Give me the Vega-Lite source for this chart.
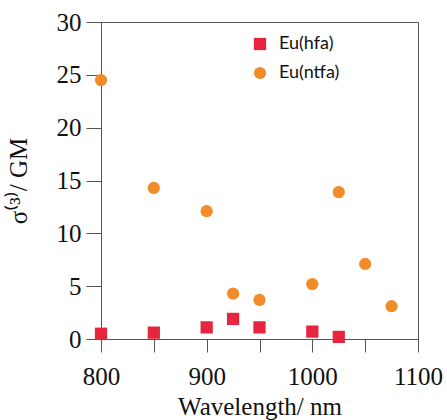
{
  "$schema": "https://vega.github.io/schema/vega-lite/v6.json",
  "autosize": {"type": "none"},
  "width": 317,
  "height": 317,
  "padding": {"left": 101, "top": 22, "right": 29, "bottom": 81},
  "background": "white",
  "config": {
    "view": {"stroke": "#555", "strokeWidth": 1},
    "axis": {"grid": false, "domainColor": "#555", "tickColor": "#555", "labelFont": "Liberation Serif", "titleFont": "Liberation Serif", "labelColor": "#111", "titleColor": "#111", "titleFontWeight": "normal", "labelFontSize": 25, "titleFontSize": 25},
    "legend": {"title": null, "orient": "none", "legendX": 150, "legendY": 13, "padding": 0, "labelFont": "Lato", "labelFontSize": 18, "labelColor": "#111", "symbolSize": 150, "rowPadding": 11, "labelOffset": 10}
  },
  "data": {"values": [
    {"wl": 800, "v": 0.5, "s": "Eu(hfa)"},
    {"wl": 850, "v": 0.6, "s": "Eu(hfa)"},
    {"wl": 900, "v": 1.1, "s": "Eu(hfa)"},
    {"wl": 925, "v": 1.9, "s": "Eu(hfa)"},
    {"wl": 950, "v": 1.1, "s": "Eu(hfa)"},
    {"wl": 1000, "v": 0.7, "s": "Eu(hfa)"},
    {"wl": 1025, "v": 0.2, "s": "Eu(hfa)"},
    {"wl": 800, "v": 24.5, "s": "Eu(ntfa)"},
    {"wl": 850, "v": 14.3, "s": "Eu(ntfa)"},
    {"wl": 900, "v": 12.1, "s": "Eu(ntfa)"},
    {"wl": 925, "v": 4.3, "s": "Eu(ntfa)"},
    {"wl": 950, "v": 3.7, "s": "Eu(ntfa)"},
    {"wl": 1000, "v": 5.2, "s": "Eu(ntfa)"},
    {"wl": 1025, "v": 13.9, "s": "Eu(ntfa)"},
    {"wl": 1050, "v": 7.1, "s": "Eu(ntfa)"},
    {"wl": 1075, "v": 3.1, "s": "Eu(ntfa)"}
  ]},
  "mark": {"type": "point", "filled": true, "opacity": 1, "size": 150},
  "encoding": {
    "x": {"field": "wl", "type": "quantitative", "scale": {"domain": [800, 1100], "nice": false, "zero": false},
      "axis": {"title": "Wavelength/ nm", "values": [800, 850, 900, 950, 1000, 1050, 1100], "labelExpr": "datum.value % 100 == 0 ? datum.label : ''", "format": "d", "tickSize": 13, "labelPadding": 12, "titlePadding": 5, "labelFlush": false}},
    "y": {"field": "v", "type": "quantitative", "scale": {"domain": [0, 30], "nice": false},
      "axis": {"title": "σ⁽³⁾/ GM", "values": [0, 5, 10, 15, 20, 25, 30], "tickSize": 15, "labelPadding": 5, "titlePadding": 25, "labelFlush": false}},
    "color": {"field": "s", "type": "nominal", "scale": {"domain": ["Eu(hfa)", "Eu(ntfa)"], "range": ["#e8253f", "#f28c28"]}, "legend": {}},
    "shape": {"field": "s", "type": "nominal", "scale": {"domain": ["Eu(hfa)", "Eu(ntfa)"], "range": ["square", "circle"]}, "legend": {}}
  }
}
